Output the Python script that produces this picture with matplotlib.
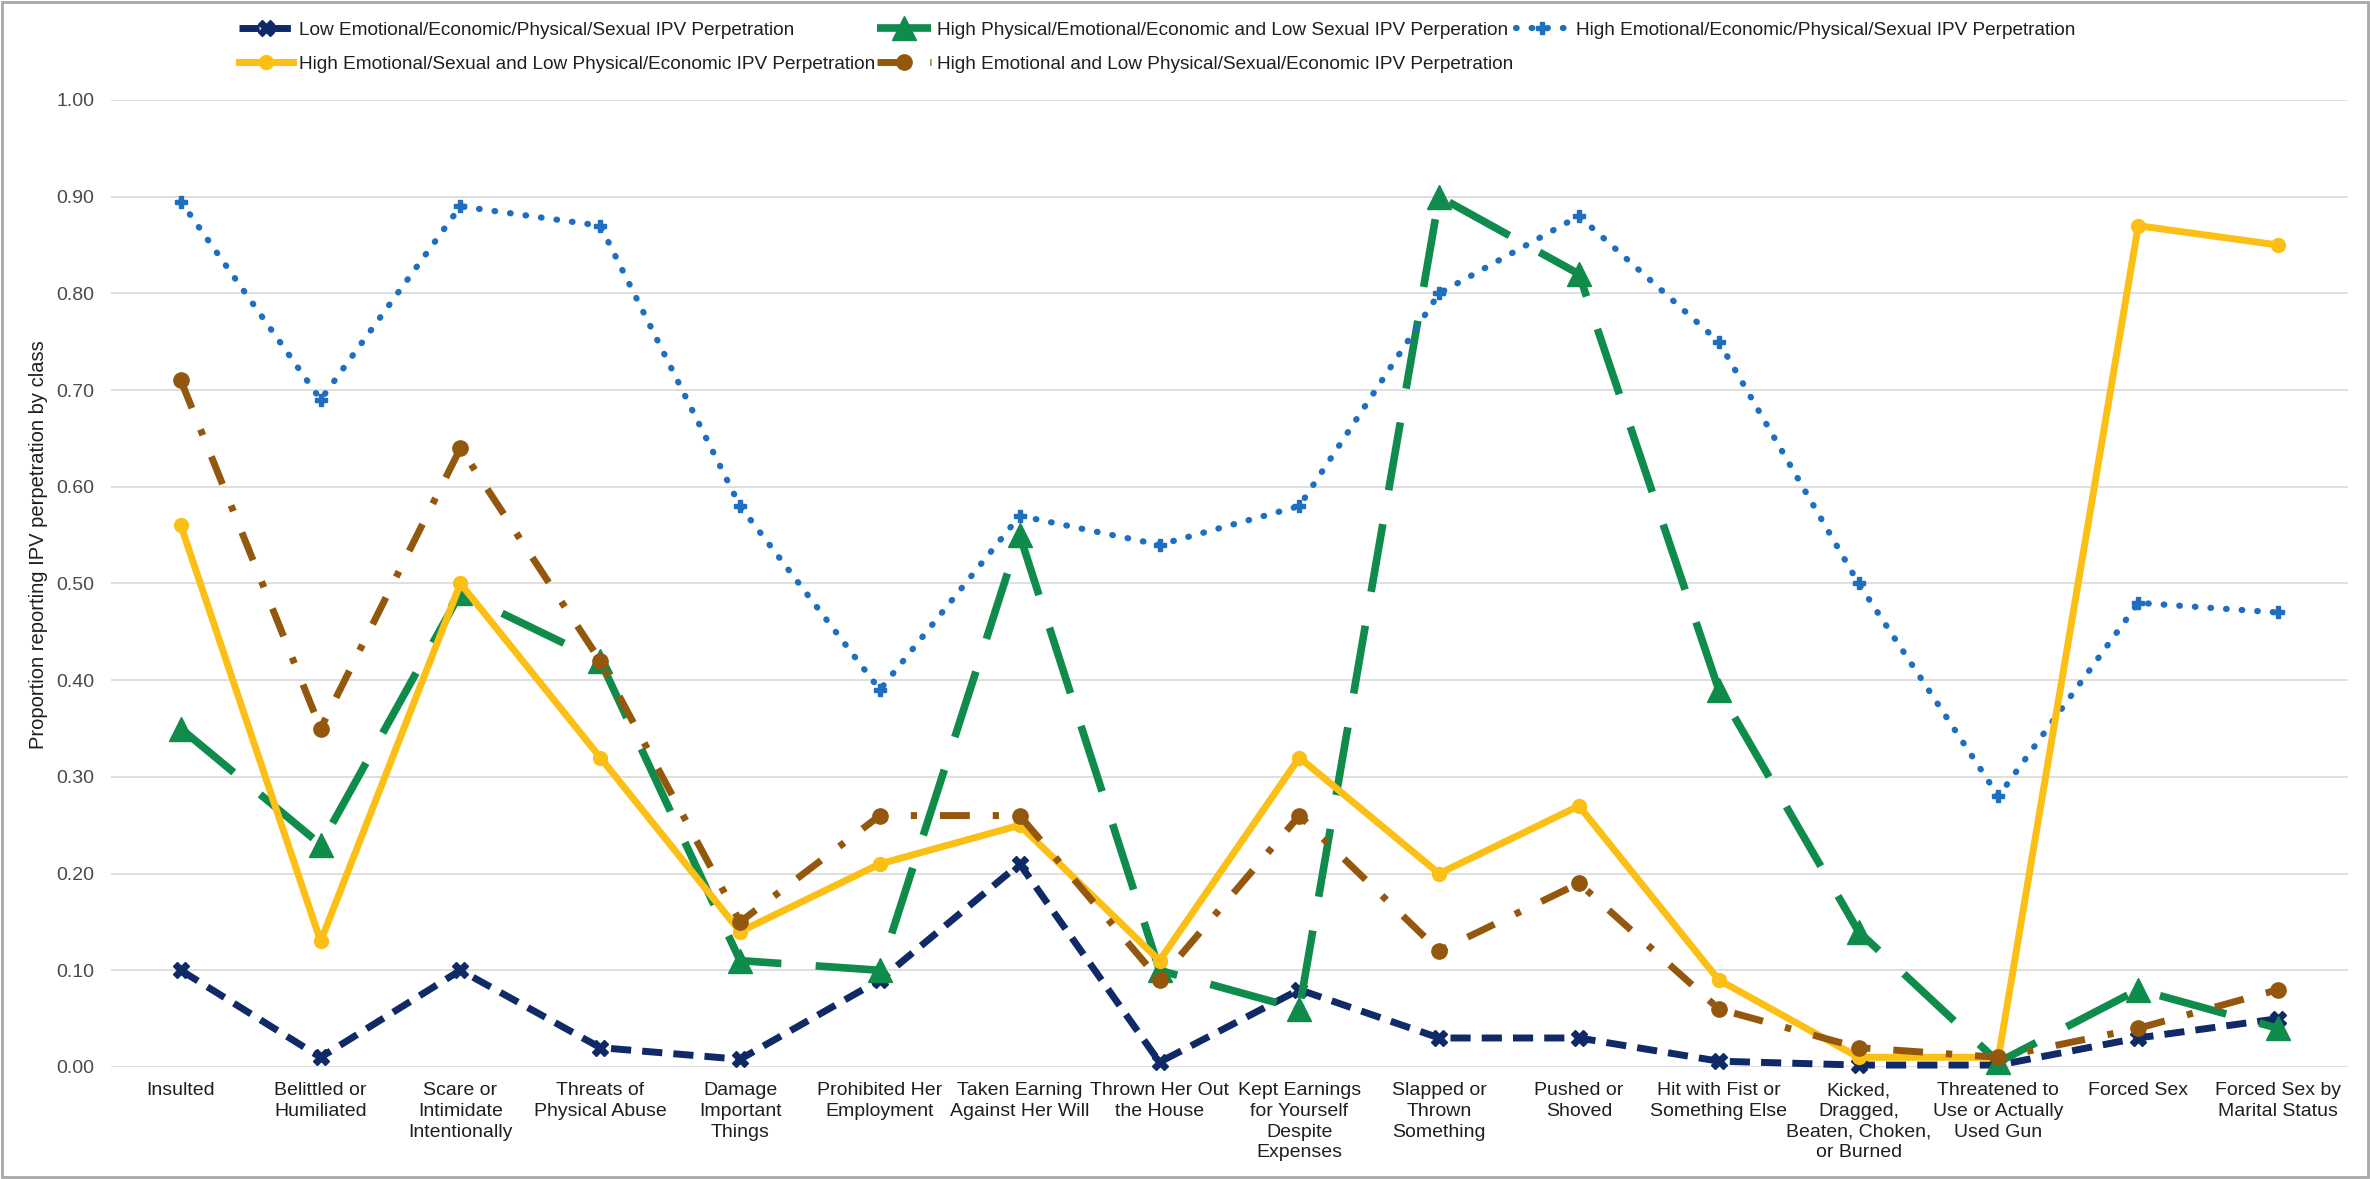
import matplotlib
matplotlib.use("Agg")
import matplotlib.pyplot as plt
from matplotlib.patches import Rectangle

plt.rcParams['font.family'] = ['Liberation Sans', 'DejaVu Sans']

# categories (x axis)
categories = [
    "Insulted", "Belittled or\nHumiliated", "Scare or\nIntimidate\nIntentionally",
    "Threats of\nPhysical Abuse", "Damage\nImportant\nThings", "Prohibited Her\nEmployment",
    "Taken Earning\nAgainst Her Will", "Thrown Her Out\nthe House",
    "Kept Earnings\nfor Yourself\nDespite\nExpenses", "Slapped or\nThrown\nSomething",
    "Pushed or\nShoved", "Hit with Fist or\nSomething Else",
    "Kicked,\nDragged,\nBeaten, Choken,\nor Burned", "Threatened to\nUse or Actually\nUsed Gun",
    "Forced Sex", "Forced Sex by\nMarital Status",
]

# class proportions
low_all = [0.10, 0.01, 0.10, 0.02, 0.008, 0.09, 0.21, 0.005, 0.08, 0.03, 0.03, 0.006, 0.002, 0.002, 0.03, 0.05]
high_phys = [0.35, 0.23, 0.49, 0.42, 0.11, 0.10, 0.55, 0.10, 0.06, 0.90, 0.82, 0.39, 0.14, 0.005, 0.08, 0.04]
high_all = [0.895, 0.69, 0.89, 0.87, 0.58, 0.39, 0.57, 0.54, 0.58, 0.80, 0.88, 0.75, 0.50, 0.28, 0.48, 0.47]
high_emo_sex = [0.56, 0.13, 0.50, 0.32, 0.14, 0.21, 0.25, 0.11, 0.32, 0.20, 0.27, 0.09, 0.01, 0.01, 0.87, 0.85]
high_emo = [0.71, 0.35, 0.64, 0.42, 0.15, 0.26, 0.26, 0.09, 0.26, 0.12, 0.19, 0.06, 0.02, 0.01, 0.04, 0.08]

labels = [
    "Low Emotional/Economic/Physical/Sexual IPV Perpetration",
    "High Physical/Emotional/Economic and Low Sexual IPV Perperation",
    "High Emotional/Economic/Physical/Sexual IPV Perpetration",
    "High Emotional/Sexual and Low Physical/Economic IPV Perpetration",
    "High Emotional and Low Physical/Sexual/Economic IPV Perpetration",
]

fig = plt.figure(figsize=(23.7, 11.79), dpi=100)
ax = fig.add_axes([0.0468, 0.095, 0.9439, 0.8202])

x = list(range(len(categories)))

l1, = ax.plot(x, low_all, color='#0f2a66', lw=5, linestyle=(0, (2.9, 1.6)),
              marker='X', markersize=12, clip_on=False, label=labels[0])
l2, = ax.plot(x, high_phys, color='#0f8b4c', lw=5.5, linestyle=(0, (9, 4.5)),
              marker='^', markersize=17, clip_on=False, label=labels[1])
l3, = ax.plot(x, high_all, color='#1f6fc0', lw=4.5, linestyle=(0, (0.1, 2.4)),
              dash_capstyle='round', marker='P', markersize=9, clip_on=False, label=labels[2])
l4, = ax.plot(x, high_emo_sex, color='#fbbf15', lw=5, linestyle='-',
              marker='o', markersize=10, clip_on=False, label=labels[3])
l5, = ax.plot(x, high_emo, color='#93580e', lw=5, linestyle=(0, (4.3, 3.3, 0.9, 3.3)),
              marker='o', markersize=11, clip_on=False, label=labels[4])

ax.set_xlim(-0.5, len(categories) - 0.5)
ax.set_ylim(0, 1.0)
ax.set_yticks([i / 10 for i in range(11)])
ax.set_yticklabels([f"{i / 10:.2f}" for i in range(11)])
ax.set_xticks(x)
ax.set_xticklabels(categories, fontsize=14, color='#1f1f1f', linespacing=1.28, va='top')
ax.tick_params(axis='y', labelsize=14, labelcolor='#4a4a4a', length=0, pad=12)
ax.tick_params(axis='x', length=0, pad=11)
ax.grid(axis='y', color='#dcdcdc', lw=1.3)
ax.set_axisbelow(True)
for s in ax.spines.values():
    s.set_visible(False)

ax.set_ylabel("Proportion reporting IPV perpetration by class", fontsize=14.5, color='#1f1f1f')
ax.yaxis.set_label_coords(-0.028, 0.54)

# legend in Excel style: row-major order across 3 columns
fig.legend([l1, l4, l2, l5, l3], [labels[0], labels[3], labels[1], labels[4], labels[2]],
           ncol=3, loc='upper left', bbox_to_anchor=(0.097, 0.99), frameon=False,
           fontsize=13.7, handlelength=2.8, handletextpad=0.35, columnspacing=0.1,
           labelspacing=0.9, borderpad=0, labelcolor='#1f1f1f')

fig.add_artist(Rectangle((0.001, 0.002), 0.998, 0.996, transform=fig.transFigure,
                         fill=False, edgecolor='#a8a8a8', lw=2))

fig.savefig("out.png", dpi=100)
